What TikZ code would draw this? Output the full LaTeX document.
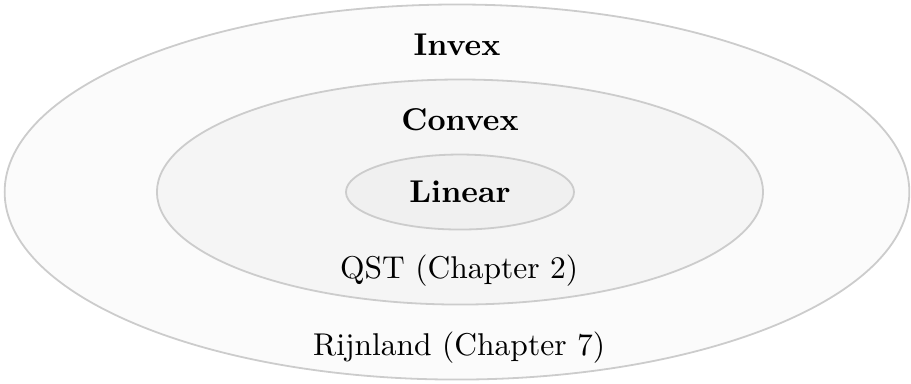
\documentclass[tikz,border=0pt]{standalone}
\usetikzlibrary{shapes.geometric}

\definecolor{ringline}{HTML}{CCCCCC}
\definecolor{outerfill}{HTML}{FBFBFB}
\definecolor{midfill}{HTML}{F5F5F5}
\definecolor{innerfill}{HTML}{F0F0F0}

\begin{document}
\begin{tikzpicture}
[x=1pt,y=1pt,%
  ring/.style={shape=ellipse,draw=ringline,line width=0.6pt,inner sep=0pt},
  lbl/.style={inner sep=0pt,font=\fontsize{10.5}{12.6}\selectfont}]
\useasboundingbox (-152.3,-63.7) rectangle (151.3,64);
\node[ring,fill=outerfill,minimum width=301.5pt,minimum height=125pt] (invex) at (0,0) {};
\node[ring,fill=midfill,minimum width=202pt,minimum height=75pt] (convex) at (1,0) {};
\node[ring,fill=innerfill,minimum width=76pt,minimum height=25pt] (linear) at (1,0) {};
\node[lbl] (invexlbl) at (0,49) {\textbf{Invex}};
\node[lbl] (convexlbl) at (1,24) {\textbf{Convex}};
\node[lbl] (linearlbl) at (linear) {\textbf{Linear}};
\node[lbl] (qst) at (0.7,-26.3) {QST (Chapter 2)};
\node[lbl] (rijnland) at (0.7,-52) {Rijnland (Chapter 7)};
\end{tikzpicture}
\end{document}
